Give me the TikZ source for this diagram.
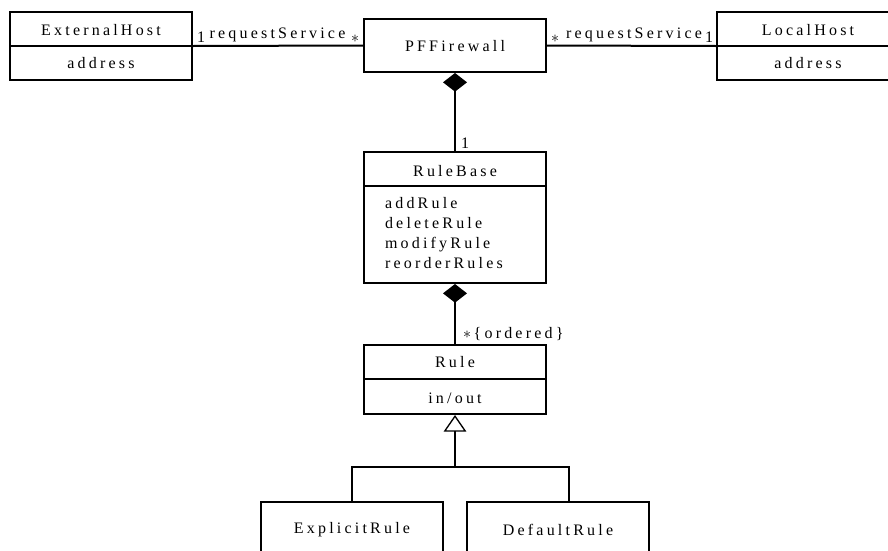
\documentclass[tikz,border=0pt]{standalone}
\usepackage{fontspec}
\setmainfont[LetterSpace=20]{Liberation Serif}
\usetikzlibrary{arrows.meta}

\tikzset{every picture/.style={line width=1.5pt}}
\tikzset{
  classbox/.style={draw, rectangle, inner sep=0pt, minimum width=136.5pt},
  classtext/.style={inner sep=0.75pt, font=\fontsize{12}{15}\selectfont},
  composite/.style={-{Diamond[length=14pt,width=18pt,fill=black]}},
  inherits/.style={-{Triangle[open,length=12.5pt,width=17pt,line width=1pt]}},
}

\begin{document}
\begin{tikzpicture}[x=0.75pt,y=0.75pt,yscale=-1,xscale=1]
		\useasboundingbox (0,0) rectangle (888,550);
		\clip (0,0) rectangle (888,550);

		%Shape: Class ExternalHost
		\node [classbox, minimum height=51pt] (ext) at (101,46) {};
		\draw (ext.west) -- (ext.east) ;
		%Shape: Class PFFirewall
		\node [classbox, minimum height=39.75pt] (pf) at (455,45.5) {};
		%Shape: Class LocalHost
		\node [classbox, minimum height=51pt] (lh) at (808,46) {};
		\draw (lh.west) -- (lh.east) ;
		%Shape: Class RuleBase
		\node [classbox, minimum height=98.25pt] (rb) at (455,217.5) {};
		\path (rb.north west) ++(0,35) coordinate (rbsep) ;
		\draw (rbsep) -- (rbsep -| rb.east) ;
		%Shape: Class Rule
		\node [classbox, minimum height=51.75pt] (rule) at (455,379.5) {};
		\path (rule.north west) ++(0,35) coordinate (rulesep) ;
		\draw (rulesep) -- (rulesep -| rule.east) ;
		%Shape: Class ExplicitRule
		\node [classbox, minimum height=45pt] (er) at (352,532) {};
		%Shape: Class DefaultRule
		\node [classbox, minimum height=45pt] (dr) at (558,532) {};

		%Straight Lines: associations
		\draw (ext.east) -- (pf.west) ;
		\draw (pf.east) -- (lh.west) ;
		%Straight Lines: compositions
		\draw [composite] (rb.north) -- (pf.south) ;
		\draw [composite] (rule.north) -- (rb.south) ;
		%Straight Lines: generalization
		\coordinate (split) at (455,467) ;
		\draw (er.north) |- (split) -| ([xshift=8.25pt]dr.north) ;
		\draw [inherits] (split) -- (rule.south) ;

		% Text Node
		\node [classtext] (exttitle) at (101,30) {ExternalHost};
		% Text Node
		\node [classtext] (extattr) at (101,63) {address};
		% Text Node
		\node [classtext] (pftitle) at (455,46) {PFFirewall};
		% Text Node
		\node [classtext] (lhtitle) at (808,30) {LocalHost};
		% Text Node
		\node [classtext] (lhattr) at (808,63) {address};
		% Text Node
		\node [classtext] (rbtitle) at (455,171) {RuleBase};
		% Text Node
		\node [classtext, anchor=north west, align=left] (rbops) at (383,195) {addRule\\deleteRule\\modifyRule\\reorderRules};
		% Text Node
		\node [classtext] (ruletitle) at (455,362) {Rule};
		% Text Node
		\node [classtext] (ruleattr) at (455,398) {in/out};
		% Text Node
		\node [classtext] (ertitle) at (352,530) {ExplicitRule};
		% Text Node
		\node [classtext] (drtitle) at (558,530) {DefaultRule};

		% Text Node
		\node [classtext, anchor=south west] (extmult) at (195,44) {1};
		% Text Node
		\node [classtext, anchor=south] (extrole) at (277.5,44) {requestService};
		% Text Node
		\node [classtext, anchor=south east] (pfmultl) at (361,44) {$\ast$};
		% Text Node
		\node [classtext, anchor=south west] (pfmultr) at (549,44) {$\ast$};
		% Text Node
		\node [classtext, anchor=south] (lhrole) at (634,44) {requestService};
		% Text Node
		\node [classtext, anchor=south east] (lhmult) at (715,44) {1};
		% Text Node
		\node [classtext, anchor=south west] (rbmult) at (459,150) {1};
		% Text Node
		\node [classtext, anchor=south west] (rulemult) at (461,343) {$\ast$\,\{ordered\}};

\end{tikzpicture}
\end{document}
